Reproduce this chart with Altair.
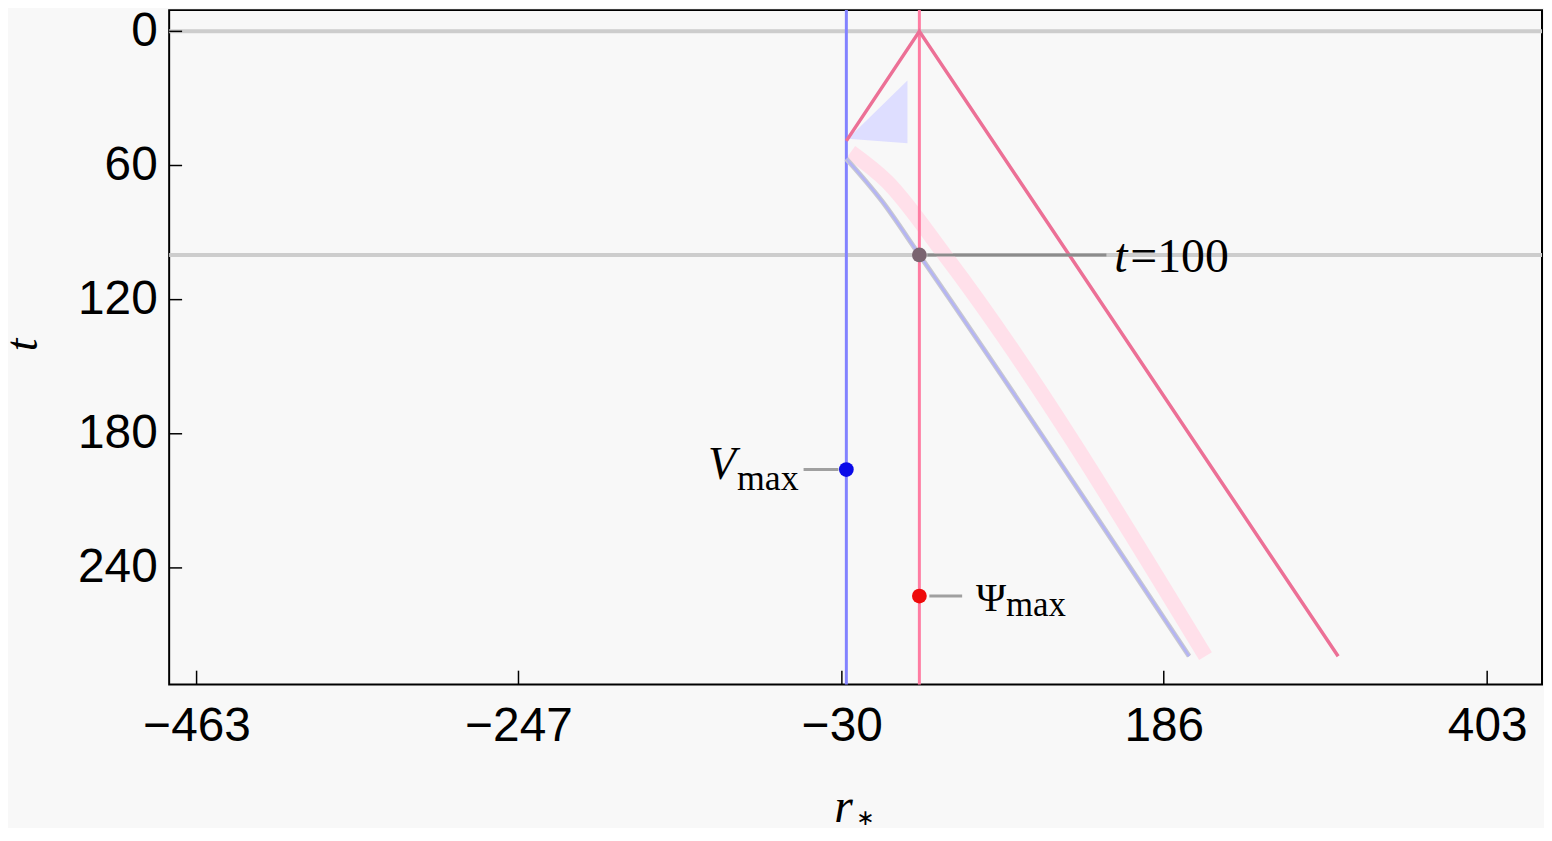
import altair as alt
import pandas as pd

W, H = 1380, 678

# axis ticks / domains
x_ticks = [-463, -247, -30, 186, 403]
y_ticks = [0, 60, 120, 180, 240]
x_domain = [-481.4, 439.8]
y_domain = [-9.5, 292.2]

# reference lines
grid_t = [0, 100]
blue_r = [-27]
red_r = [22]

# light-cone (red) polyline
cone_r = [-27, 22, 303]
cone_t = [49, 0, 279.5]

# lower (blue-grey) curve
lower_r = [-27, -3, 22, 203]
lower_t = [57, 76, 100, 279.5]

# pink band centre line
band_r = [-24, 0, 39, 214]
band_t = [54, 67, 100, 279.5]

# lavender wedge
tri_r = [-26, 14]
tri_t1 = [48, 22]
tri_t2 = [48, 50]

# marked points
pt_name = ["V", "Psi", "T"]
pt_r = [-27, 22, 22]
pt_t = [196, 252.6, 100]
pt_color = ["#0a0ae8", "#ee0a0a", "#7a6470"]

xs = alt.Scale(domain=x_domain, nice=False, zero=False)
ys = alt.Scale(domain=y_domain, nice=False, zero=False, reverse=True)

x_axis = alt.Axis(values=x_ticks, ticks=False, domain=False, grid=False,
                  labelFont="Liberation Sans", labelFontSize=48, labelColor="black",
                  labelPadding=18, labelFlush=False,
                  title="r", titleFont="Liberation Serif", titleFontStyle="italic",
                  titleFontWeight="normal", titleFontSize=48, titleColor="black",
                  titleX=668, titleY=138, titleAlign="left", titleBaseline="alphabetic")
y_axis = alt.Axis(values=y_ticks, ticks=False, domain=False, grid=False,
                  labelFont="Liberation Sans", labelFontSize=48, labelColor="black",
                  labelPadding=12, labelFlush=False,
                  title="t", titleFont="Liberation Serif", titleFontStyle="italic",
                  titleFontWeight="normal", titleFontSize=46, titleColor="black",
                  titleX=-133, titleY=336, titleAngle=270, titleAlign="center",
                  titleBaseline="alphabetic")

X = alt.X("r:Q", scale=xs, axis=x_axis)
Y = alt.Y("t:Q", scale=ys, axis=y_axis)

def line_df(rs, ts):
    return pd.DataFrame({"r": rs, "t": ts, "i": list(range(len(rs)))})

hgrid = alt.Chart(pd.DataFrame({"t": grid_t})).mark_rule(
    color="#cdcdcd", strokeWidth=4).encode(y=Y)

wedge = alt.Chart(pd.DataFrame({"r": tri_r, "t": tri_t1, "t2": tri_t2})).mark_area(
    color="#dedeff", opacity=1).encode(x=X, y=Y, y2="t2:Q")

band = alt.Chart(line_df(band_r, band_t)).mark_line(
    color="#ffe0ea", strokeWidth=15, strokeCap="butt", strokeJoin="round",
    interpolate="monotone").encode(x=X, y=Y, order="i:Q")

vblue = alt.Chart(pd.DataFrame({"r": blue_r})).mark_rule(
    color="#8282ff", strokeWidth=3).encode(x=X)
vred = alt.Chart(pd.DataFrame({"r": red_r})).mark_rule(
    color="#ff7ca2", strokeWidth=3).encode(x=X)

cone = alt.Chart(line_df(cone_r, cone_t)).mark_line(
    color="#ec7096", strokeWidth=3.5).encode(x=X, y=Y, order="i:Q")

lower_shadow = alt.Chart(line_df(lower_r, lower_t)).mark_line(
    color="#c8c8d0", strokeWidth=5, interpolate="monotone").encode(x=X, y=Y, order="i:Q")
lower = alt.Chart(line_df(lower_r, lower_t)).mark_line(
    color="#b4b4f4", strokeWidth=2.5, interpolate="monotone").encode(x=X, y=Y, order="i:Q")

xtick = alt.Chart(pd.DataFrame({"r": x_ticks})).mark_rule(
    color="black", strokeWidth=1.5).encode(x=X, y=alt.value(H), y2=alt.value(H - 14))
ytick = alt.Chart(pd.DataFrame({"t": y_ticks})).mark_rule(
    color="black", strokeWidth=1.5).encode(y=Y, x=alt.value(0), x2=alt.value(13))

pts = pd.DataFrame({"name": pt_name, "r": pt_r, "t": pt_t})
base = alt.Chart(pts)

def sel(n):
    return base.transform_filter(alt.datum.name == n)

lead_v = sel("V").mark_rule(color="#a0a0a0", strokeWidth=3, xOffset=-43, x2Offset=-8).encode(
    x=X, x2="r:Q", y=Y)
lead_p = sel("Psi").mark_rule(color="#a0a0a0", strokeWidth=3, xOffset=10, x2Offset=43).encode(
    x=X, x2="r:Q", y=Y)
lead_t = sel("T").mark_rule(color="#8c8c8c", strokeWidth=3, xOffset=8, x2Offset=188).encode(
    x=X, x2="r:Q", y=Y)

dots = base.mark_circle(size=220, opacity=1).encode(
    x=X, y=Y,
    color=alt.Color("name:N", scale=alt.Scale(domain=pt_name, range=pt_color), legend=None))

serif = "Liberation Serif"
txt_v = sel("V").mark_text(text="V", font=serif, fontSize=46, fontStyle="italic",
                           align="left", baseline="alphabetic", dx=-139, dy=10,
                           color="black").encode(x=X, y=Y)
txt_vsub = sel("V").mark_text(text="max", font=serif, fontSize=36,
                              align="left", baseline="alphabetic", dx=-110, dy=21,
                              color="black").encode(x=X, y=Y)
txt_p = sel("Psi").mark_text(text="Ψ", font=serif, fontSize=41,
                             align="left", baseline="alphabetic", dx=57, dy=15,
                             color="black").encode(x=X, y=Y)
txt_psub = sel("Psi").mark_text(text="max", font=serif, fontSize=35,
                                align="left", baseline="alphabetic", dx=87, dy=20,
                                color="black").encode(x=X, y=Y)
txt_t = sel("T").mark_text(text="t", font=serif, fontSize=48, fontStyle="italic",
                           align="left", baseline="alphabetic", dx=196, dy=17,
                           color="black").encode(x=X, y=Y)
txt_t2 = sel("T").mark_text(text="=100", font=serif, fontSize=48,
                            align="left", baseline="alphabetic", dx=212, dy=17,
                            color="black").encode(x=X, y=Y)

star = alt.Chart(pd.DataFrame({"s": ["∗"]})).mark_text(
    font="DejaVu Sans", fontSize=22, align="center", baseline="alphabetic",
    color="black").encode(text="s:N", x=alt.value(700), y=alt.value(H + 141))

chart = alt.layer(
    hgrid, wedge, band, vblue, vred, cone, lower_shadow, lower,
    xtick, ytick, lead_v, lead_p, lead_t, dots,
    txt_v, txt_vsub, txt_p, txt_psub, txt_t, txt_t2, star
).properties(
    width=W, height=H,
    autosize=alt.AutoSizeParams(type="none"),
    padding={"left": 162, "top": 0, "right": 2, "bottom": 142},
    background="#f8f8f8",
).configure_view(stroke="black", strokeWidth=2, fill="#f8f8f8")

chart.save("out.html", embed_options={"renderer": "svg", "actions": False})
